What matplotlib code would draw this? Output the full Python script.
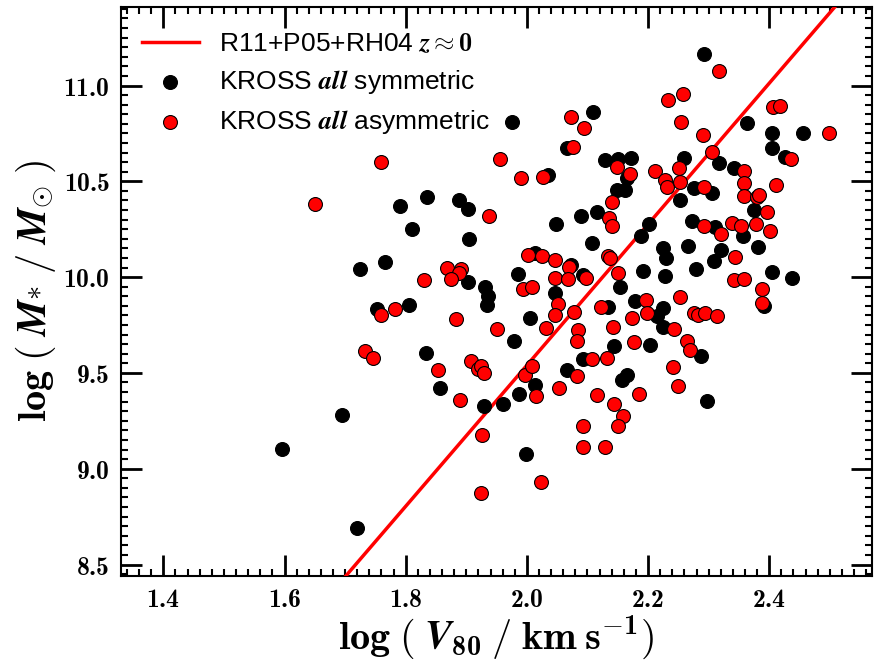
import numpy as np
import matplotlib
matplotlib.use('Agg')
import matplotlib.pyplot as plt
from matplotlib.ticker import MultipleLocator, FormatStrFormatter

plt.rcParams['mathtext.fontset'] = 'custom'
plt.rcParams['mathtext.rm'] = 'cmr10'
plt.rcParams['mathtext.bf'] = 'cmb10'
plt.rcParams['mathtext.it'] = 'STIXGeneral:italic'
plt.rcParams['mathtext.bfit'] = 'STIXGeneral:italic:bold'
plt.rcParams['mathtext.fallback'] = 'cm'

# KROSS symmetric galaxies: log V80, log M*
sym_logv = [1.725, 1.766, 1.752, 1.595, 1.694, 1.719,
            1.975, 1.790, 1.835, 1.888, 1.903, 1.811, 1.905, 2.013, 1.986, 1.902, 2.035,
            2.293, 2.109, 2.067, 2.129, 2.151, 2.172, 2.166, 2.148, 2.162, 2.115, 2.089,
            2.048, 2.108, 2.072, 2.092, 2.201, 2.188, 2.192, 2.225, 2.229, 2.228, 2.266,
            2.279, 2.272, 2.259, 2.253, 2.275,
            2.364, 2.404, 2.455, 2.404, 2.426, 2.317, 2.342, 2.305, 2.375, 2.310, 2.356,
            2.320, 2.382, 2.308, 2.404, 2.438,
            1.805, 1.931, 1.936, 1.934, 2.005, 1.979, 1.833, 1.857, 1.930, 1.961, 1.987,
            2.013, 1.998,
            2.046, 2.154, 2.134, 2.178, 2.225, 2.214, 2.225, 2.288, 2.143, 2.203, 2.093,
            2.066, 2.165, 2.157,
            2.392, 2.297]
sym_logm = [10.04, 10.08, 9.835, 9.105, 9.278, 8.688,
            10.811, 10.372, 10.420, 10.403, 10.355, 10.252, 10.200, 10.128, 10.016, 9.977, 10.533,
            11.163, 10.863, 10.676, 10.612, 10.617, 10.620, 10.516, 10.455, 10.455, 10.339, 10.321,
            10.276, 10.180, 10.065, 10.012, 10.276, 10.212, 10.033, 10.151, 10.099, 10.008, 10.160,
            10.043, 10.294, 10.624, 10.403, 10.464,
            10.806, 10.751, 10.754, 10.676, 10.626, 10.594, 10.571, 10.441, 10.351, 10.264, 10.212,
            10.142, 10.156, 10.085, 10.026, 9.995,
            9.856, 9.948, 9.899, 9.856, 9.786, 9.669, 9.604, 9.421, 9.325, 9.339, 9.392,
            9.438, 9.079,
            9.917, 9.948, 9.844, 9.873, 9.838, 9.795, 9.742, 9.590, 9.643, 9.647, 9.572,
            9.517, 9.491, 9.465,
            9.850, 9.355]

# KROSS asymmetric galaxies
asym_logv = [1.760, 1.650, 1.760, 1.782, 1.733, 1.746,
             1.956, 1.991, 2.026, 1.938, 2.001, 2.025, 1.830, 1.868, 1.892, 1.888, 1.875,
             2.233, 2.258, 2.255, 2.291, 2.073, 2.094, 2.076, 2.149, 2.170, 2.140, 2.136,
             2.140, 2.046, 2.069, 2.046, 2.068, 2.098, 2.134, 2.137, 2.151, 2.292, 2.211,
             2.228, 2.232, 2.251, 2.253, 2.292,
             2.317, 2.407, 2.418, 2.499, 2.436, 2.305, 2.358, 2.358, 2.358, 2.411, 2.379,
             2.383, 2.396, 2.378, 2.402, 2.338, 2.353, 2.320, 2.343, 2.342, 2.359,
             1.883, 2.031, 1.950, 1.853, 1.907, 1.920, 1.924, 1.930, 1.890, 1.997, 2.009,
             2.015, 1.926, 2.023, 1.924, 1.994, 2.009,
             2.052, 2.046, 2.078, 2.085, 2.082, 2.123, 2.196, 2.199, 2.173, 2.142, 2.243,
             2.253, 2.276, 2.283, 2.294, 2.265, 2.269, 2.177, 2.108, 2.132, 2.082, 2.053,
             2.241, 2.250, 2.115, 2.185, 2.144, 2.158, 2.151, 2.093, 2.093, 2.129,
             2.388, 2.388, 2.313]
asym_logm = [10.600, 10.381, 9.803, 9.833, 9.612, 9.578,
             10.618, 10.519, 10.523, 10.318, 10.113, 10.108, 9.986, 10.050, 10.043, 10.021, 9.991,
             10.924, 10.954, 10.811, 10.742, 10.837, 10.777, 10.681, 10.577, 10.539, 10.394, 10.311,
             10.267, 10.090, 10.055, 9.995, 9.991, 9.995, 10.111, 10.099, 10.021, 10.269, 10.554,
             10.507, 10.472, 10.568, 10.498, 10.472,
             11.076, 10.886, 10.895, 10.751, 10.617, 10.652, 10.556, 10.490, 10.425, 10.481, 10.420,
             10.429, 10.342, 10.278, 10.243, 10.282, 10.267, 10.224, 10.104, 9.986, 9.991,
             9.783, 9.737, 9.729, 9.517, 9.560, 9.522, 9.534, 9.500, 9.360, 9.491, 9.534,
             9.377, 9.174, 8.929, 8.874, 9.939, 9.951,
             9.861, 9.803, 9.818, 9.722, 9.664, 9.844, 9.882, 9.815, 9.789, 9.742, 9.730,
             9.894, 9.815, 9.800, 9.812, 9.664, 9.617, 9.659, 9.574, 9.578, 9.482, 9.421,
             9.531, 9.433, 9.383, 9.390, 9.338, 9.277, 9.221, 9.221, 9.114, 9.112,
             9.937, 9.864, 9.798]

# local relation (R11+P05+RH04, z~0)
tf_slope = 3.68
tf_zero = 2.18

fig = plt.figure(figsize=(8.74, 6.7), dpi=100)
ax = fig.add_axes([0.1384, 0.1403, 0.8596, 0.8493])

xl = np.array([1.33, 2.57])
ax.plot(xl, tf_zero + tf_slope * xl, color='red', lw=2.5, zorder=3,
        label=r'R11+P05+RH04 $\boldsymbol{z} \approx \mathbf{0}$')
ax.scatter(sym_logv, sym_logm, s=100, c='black', edgecolors='black', linewidths=0.8,
           zorder=4, label=r'KROSS $\boldsymbol{all}$ symmetric')
ax.scatter(asym_logv, asym_logm, s=100, c='red', edgecolors='black', linewidths=0.8,
           zorder=5, label=r'KROSS $\boldsymbol{all}$ asymmetric')

ax.set_xlim(1.33, 2.57)
ax.set_ylim(8.44, 11.41)

ax.xaxis.set_major_locator(MultipleLocator(0.2))
ax.xaxis.set_minor_locator(MultipleLocator(0.02))
ax.yaxis.set_major_locator(MultipleLocator(0.5))
ax.yaxis.set_minor_locator(MultipleLocator(0.05))
ax.xaxis.set_major_formatter(FormatStrFormatter(r'$\mathbf{%.1f}$'))
ax.yaxis.set_major_formatter(FormatStrFormatter(r'$\mathbf{%.1f}$'))
ax.tick_params(which='both', direction='in', top=True, right=True, labelsize=18.5)
ax.tick_params(which='major', length=15, width=2, pad=8)
ax.tick_params(which='minor', length=5, width=1.5)
for sp in ax.spines.values():
    sp.set_linewidth(1.5)

ax.set_xlabel(r'$\mathbf{log}\ (\ \boldsymbol{V}_{\mathbf{80}}\ /\ \mathbf{km\;s^{-1}})$',
              fontsize=29, labelpad=0)
ax.set_ylabel(r'$\mathbf{log}\ (\ \boldsymbol{M}_{*}\ /\ \boldsymbol{M}_{\odot}\ )$',
              fontsize=29, labelpad=4)

leg = ax.legend(loc='upper left', bbox_to_anchor=(0.0, 0.993), frameon=False,
                prop={'family': 'Liberation Sans', 'size': 19},
                handlelength=2.15, handletextpad=0.75, labelspacing=0.45, borderaxespad=0.4)

fig.savefig('out.png', dpi=100)
